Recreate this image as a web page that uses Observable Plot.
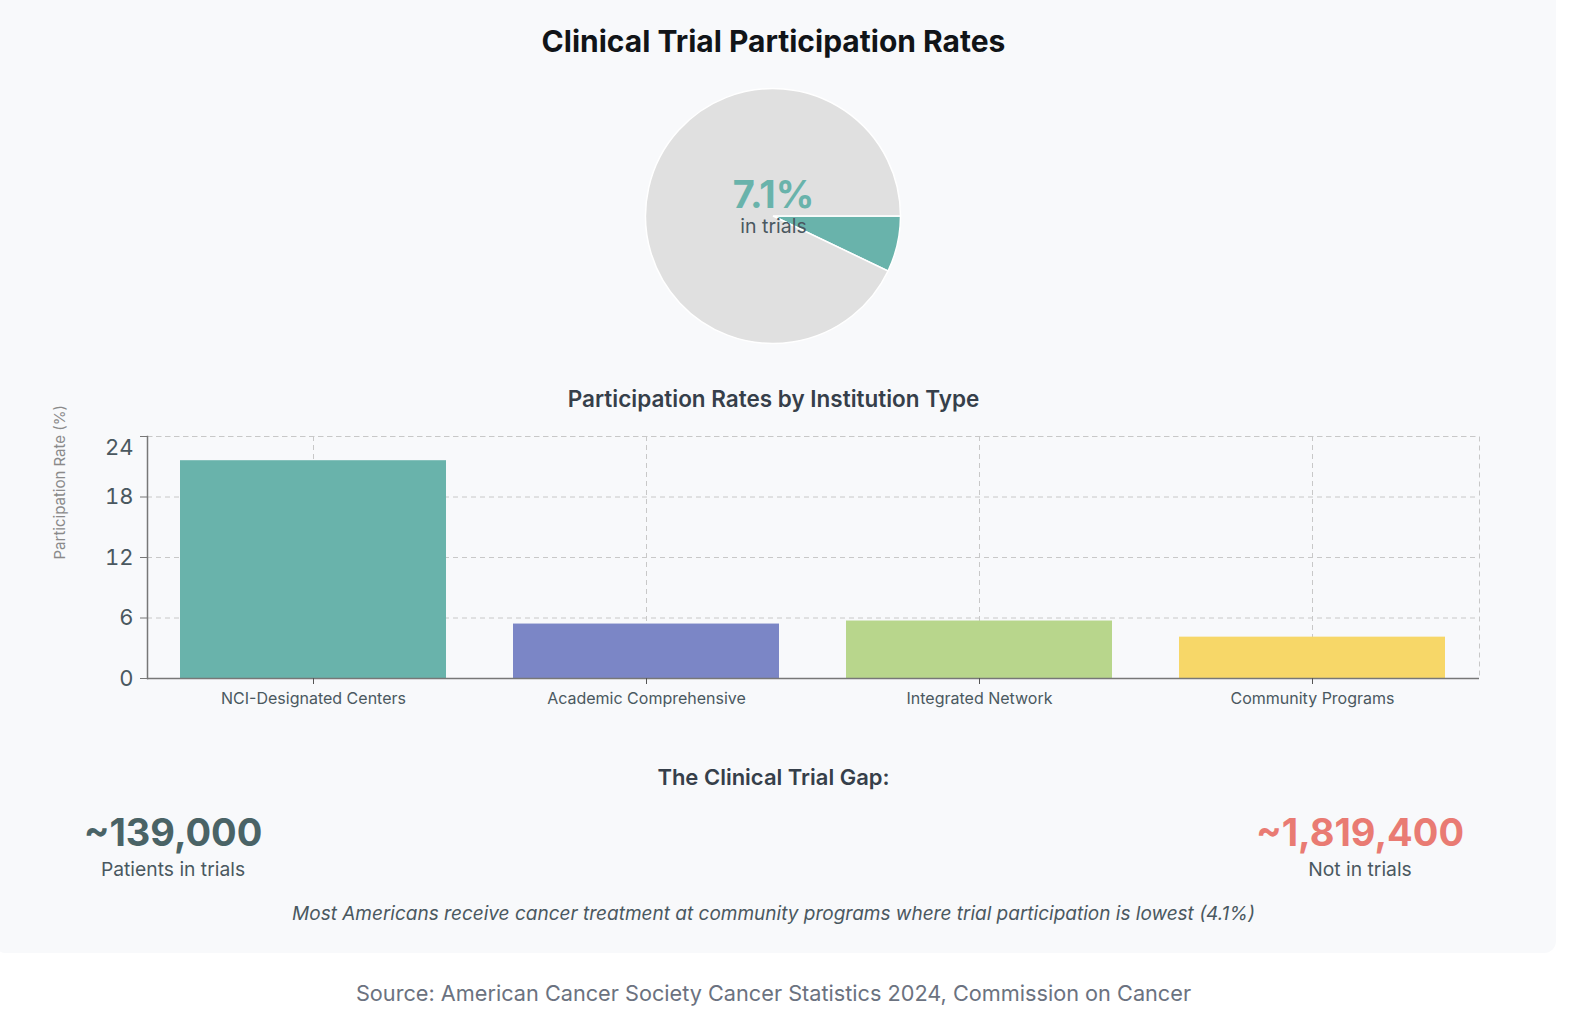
<!DOCTYPE html>
<html>
<head>
<meta charset="utf-8">
<script src="https://cdn.jsdelivr.net/npm/d3@7"></script>
<script src="https://cdn.jsdelivr.net/npm/@observablehq/plot@0.6"></script>
<style>
  html, body { margin: 0; padding: 0; background: #ffffff; }
  body { width: 1570px; height: 1028px; position: relative; overflow: hidden; font-family: Inter, "Noto Sans", sans-serif; }
  .card { position: absolute; left: -6px; top: -12px; width: 1562px; height: 965px; background: #f8f9fb; border-radius: 12px; }
  .t { position: absolute; left: 0; width: 1547px; text-align: center; white-space: nowrap; }
  .abs { position: absolute; white-space: nowrap; text-align: center; }
  #pie, #bars { position: absolute; }
</style>
</head>
<body>
<div class="card"></div>
<div class="t" id="title" style="top:21px;height:40px;line-height:40px;font-size:30px;font-weight:700;color:#111418;">Clinical Trial Participation Rates</div>
<div id="pie" style="left:623px;top:66px;"></div>
<div class="t" id="subtitle" style="top:385px;height:28px;line-height:28px;font-size:22.5px;font-weight:600;color:#363f4a;">Participation Rates by Institution Type</div>
<div id="bars" style="left:0;top:400px;"></div>
<div class="t" id="gapTitle" style="top:763px;height:28px;line-height:28px;font-size:22px;font-weight:600;color:#363f4a;">The Clinical Trial Gap:</div>
<div id="stats"></div>
<div class="t" id="note" style="top:902px;height:24px;line-height:24px;font-size:19px;font-style:italic;color:#4a5860;"></div>
<div class="t" id="source" style="top:979px;height:28px;line-height:28px;font-size:21.7px;color:#6b7280;">Source: American Cancer Society Cancer Statistics 2024, Commission on Cancer</div>

<script>
// ---- Data ----
const pieLabels = ["In trials", "Not in trials"];
const pieValues = [7.1, 92.9];
const pieColors = ["#69b3ab", "#e0e0e0"];

const categories = ["NCI-Designated Centers", "Academic Comprehensive", "Integrated Network", "Community Programs"];
const rates = [21.6, 5.4, 5.7, 4.1];
const barColors = ["#69b3ab", "#7b86c6", "#b8d68c", "#f7d768"];
const yTicks = [0, 6, 12, 18, 24];

const statValues = ["~139,000", "~1,819,400"];
const statLabels = ["Patients in trials", "Not in trials"];
const statColors = ["#4a6366", "#e97b73"];
const statCenters = [173, 1360];
const noteText = "Most Americans receive cancer treatment at community programs where trial participation is lowest (4.1%)";

// ---- Pie ----
const slices = pieLabels.map((label, i) => ({label, value: pieValues[i], color: pieColors[i]}));

function pieMark(index, scales) {
  const {x, y} = scales;
  const cx = x(0), cy = y(0);
  const r = x(0.85) - x(0);
  const arcs = d3.pie().value(d => d.value).sort(null)
    .startAngle(Math.PI / 2).endAngle(Math.PI / 2 + 2 * Math.PI)(slices);
  const arc = d3.arc().innerRadius(0).outerRadius(r);
  const g = d3.create("svg:g").attr("transform", `translate(${cx},${cy})`);
  g.selectAll("path").data(arcs).join("path")
    .attr("d", arc)
    .attr("fill", d => d.data.color)
    .attr("stroke", "#ffffff")
    .attr("stroke-width", 1.5);
  return g.node();
}

const pie = Plot.plot({
  width: 300,
  height: 300,
  margin: 0,
  style: {background: "transparent", overflow: "visible"},
  x: {domain: [-1, 1], axis: null},
  y: {domain: [-1, 1], axis: null},
  marks: [
    pieMark,
    Plot.text([slices[0]], {x: () => 0, y: () => 0, text: d => d.value + "%", dy: -21, fill: "#69b3ab", fontSize: 38, fontWeight: 700, fontFamily: "Inter"}),
    Plot.text(["in trials"], {x: () => 0, y: () => 0, text: d => d, dy: 10, fill: "#4a5860", fontSize: 19.5, fontFamily: "Inter"})
  ]
});
document.getElementById("pie").appendChild(pie);

// ---- Bars ----
const barData = categories.map((c, i) => ({category: c, rate: rates[i], color: barColors[i]}));
const gridStyle = {stroke: "#c8c8c8", strokeOpacity: 1, strokeDasharray: "5,4", strokeWidth: 1};

const bars = Plot.plot({
  width: 1556,
  height: 324,
  marginLeft: 147,
  marginRight: 77,
  marginTop: 36,
  marginBottom: 46,
  style: {background: "transparent", fontFamily: "Inter"},
  x: {domain: categories, paddingInner: 0.2, paddingOuter: 0.1, label: null, axis: null},
  y: {domain: [0, 24], label: null, axis: null},
  marks: [
    Plot.frame(gridStyle),
    Plot.gridY([6, 12, 18, 24], gridStyle),
    Plot.gridX(categories, gridStyle),
    Plot.barY(barData, {x: "category", y: "rate", fill: "color"}),
    Plot.ruleY([0], {stroke: "#777", strokeWidth: 1.5}),
    Plot.frame({anchor: "left", stroke: "#777", strokeWidth: 1.5}),
    Plot.axisY(yTicks, {tickSize: 7, stroke: "#777", text: null}),
    Plot.axisY([0, 6, 12, 18], {tickSize: 0, tickPadding: 14, fontSize: 22, fill: "#4a5860", label: null}),
    Plot.axisY([24], {tickSize: 0, tickPadding: 14, fontSize: 22, fill: "#4a5860", dy: 11, label: null}),
    Plot.axisX(categories, {tickSize: 6, tickPadding: 8, stroke: "#555", fontSize: 16, fill: "#4a5860", label: null}),
    Plot.text(["Participation Rate (%)"], {frameAnchor: "left", rotate: -90, textAnchor: "start", dx: -87, dy: 2, fill: "#8a8a8a", fontSize: 15})
  ]
});
document.getElementById("bars").appendChild(bars);

// ---- Stats ----
const stats = document.getElementById("stats");
statValues.forEach((v, i) => {
  const num = document.createElement("div");
  num.className = "abs";
  num.style.cssText = `left:${statCenters[i] - 200}px;width:400px;top:810px;height:44px;line-height:44px;font-size:38px;font-weight:700;color:${statColors[i]};`;
  num.textContent = v;
  stats.appendChild(num);
  const lab = document.createElement("div");
  lab.className = "abs";
  lab.style.cssText = `left:${statCenters[i] - 200}px;width:400px;top:856px;height:26px;line-height:26px;font-size:19.3px;color:#4a5860;`;
  lab.textContent = statLabels[i];
  stats.appendChild(lab);
});
document.getElementById("note").textContent = noteText;
</script>
</body>
</html>
